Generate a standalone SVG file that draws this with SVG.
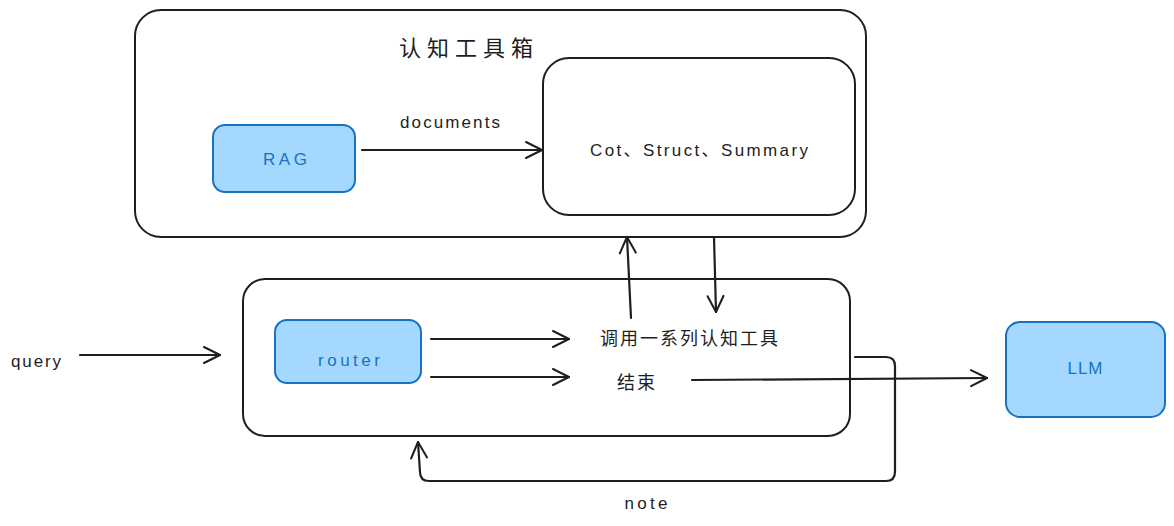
<svg xmlns="http://www.w3.org/2000/svg" width="1174" height="526" viewBox="0 0 1174 526">
<defs>
<marker id="ah" viewBox="0 0 20 20" refX="18" refY="10" markerWidth="20" markerHeight="20" markerUnits="userSpaceOnUse" orient="auto">
<path d="M2,2 L18,10 L2,18" fill="none" stroke="#1e1e1e" stroke-width="2" stroke-linecap="round" stroke-linejoin="round"/>
</marker>
<style>
.box{fill:#ffffff;stroke:#1e1e1e;stroke-width:2}
.blue{fill:#a5d8ff;stroke:#1971c2;stroke-width:2}
.t{font-family:"Liberation Sans","Noto Sans CJK SC",sans-serif;fill:#1e1e1e;text-anchor:middle;dominant-baseline:central}
.tb{font-family:"Liberation Sans","Noto Sans CJK SC",sans-serif;fill:#1971c2;text-anchor:middle;dominant-baseline:central}
.c{fill:none;stroke:#1e1e1e;stroke-width:2.2;stroke-linecap:round;stroke-linejoin:round}
</style>
</defs>
<rect width="1174" height="526" fill="#ffffff"/>
<g id="toolbox">
<rect class="box" x="135" y="10" width="731" height="227" rx="26"/>
<text class="t" x="466" y="48" font-size="22" textLength="134" lengthAdjust="spacing">认知工具箱</text>
</g>
<g id="tools">
<rect class="box" x="543" y="58" width="312" height="157" rx="26"/>
<text class="t" x="699" y="150" font-size="17" textLength="218" lengthAdjust="spacing">Cot、Struct、Summary</text>
</g>
<g id="rag">
<rect class="blue" x="213" y="125" width="142" height="67" rx="12"/>
<text class="tb" x="285" y="159" font-size="17" textLength="44" lengthAdjust="spacing">RAG</text>
</g>
<g id="agent">
<rect class="box" x="243" y="279" width="607" height="157" rx="22"/>
<text class="t" x="689" y="339" font-size="18" textLength="178" lengthAdjust="spacing">调用一系列认知工具</text>
<text class="t" x="636" y="383" font-size="18" textLength="38" lengthAdjust="spacing">结束</text>
</g>
<g id="router">
<rect class="blue" x="275" y="320" width="146" height="63" rx="12"/>
<text class="tb" x="349" y="360" font-size="17" textLength="62" lengthAdjust="spacing">router</text>
</g>
<g id="llm">
<rect class="blue" x="1006" y="322" width="159" height="95" rx="14"/>
<text class="tb" x="1085" y="368" font-size="17" textLength="35" lengthAdjust="spacing">LLM</text>
</g>
<g id="query">
<text class="t" x="36" y="361" font-size="17" textLength="50" lengthAdjust="spacing">query</text>
</g>
<g id="connectors">
<path class="c" d="M362,150 L542,150" marker-end="url(#ah)"/>
<text class="t" x="450" y="122" font-size="17" textLength="100" lengthAdjust="spacing">documents</text>
<path class="c" d="M80,355 L220,355" marker-end="url(#ah)"/>
<path class="c" d="M431,339 L569,339" marker-end="url(#ah)"/>
<path class="c" d="M431,377 L569,377" marker-end="url(#ah)"/>
<path class="c" d="M692,380 L987,378" marker-end="url(#ah)"/>
<path class="c" d="M631,318 L627,237" marker-end="url(#ah)"/>
<path class="c" d="M714,237 L716,312" marker-end="url(#ah)"/>
<path class="c" d="M855,357 L886,357 Q895,357 895,366 L895,472 Q895,481 886,481 L429,481 Q420,481 420,472 L418,442" marker-end="url(#ah)"/>
<text class="t" x="646" y="503" font-size="17" textLength="43" lengthAdjust="spacing">note</text>
</g>
</svg>
